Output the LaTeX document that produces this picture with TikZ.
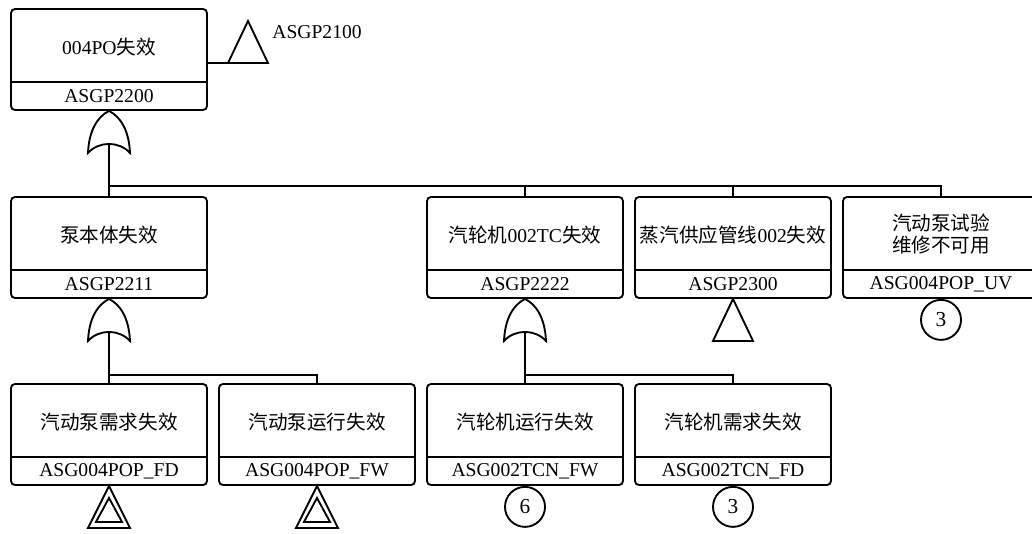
\documentclass[tikz,border=0pt]{standalone}
\usepackage{fontspec}
\setmainfont{Liberation Serif}
\newfontfamily\cjk{Noto Sans CJK SC}
\usetikzlibrary{positioning}
\newcommand{\zh}[1]{{\cjk #1}}

\tikzset{
  evbox/.style={draw, rounded corners=3pt, minimum width=147pt, minimum height=75.75pt, inner sep=0pt},
  idbox/.style={minimum width=147pt, minimum height=20.25pt, inner sep=0pt},
  evtitle/.style={align=center, font=\fontsize{14.7pt}{16.5pt}\selectfont},
  numcirc/.style={draw, circle, minimum size=30pt, inner sep=0pt, font=\fontsize{16pt}{18pt}\selectfont},
  orgate/.pic={
    \draw[fill=white] (-21,42) .. controls (-20,20) and (-12,6) .. (0,0)
      .. controls (12,6) and (20,20) .. (21,42)
      .. controls (10,30) and (-10,30) .. cycle;
    \coordinate (-out) at (0,33);
  },
  transfer/.pic={
    \draw[fill=white] (0,0) -- (20,42) -- (-20,42) -- cycle;
    \coordinate (-left) at (-20,42);
  },
  basicev/.pic={
    \draw[fill=white] (0,0) -- (21,42) -- (-21,42) -- cycle;
    \draw (0,12) -- (13,36) -- (-13,36) -- cycle;
  }
}

\begin{document}
\begin{tikzpicture}[x=0.75pt, y=-0.75pt, line width=1.4pt,
    every node/.style={font=\fontsize{14.7pt}{17pt}\selectfont}]
  \useasboundingbox (0,0) rectangle (1032,533);
  \pgfmathsetmacro{\rowa}{59.5}
  \pgfmathsetmacro{\rowb}{247.5}
  \pgfmathsetmacro{\rowc}{434.5}

  % top event
  \node[evbox] (top) at (109,\rowa) {};
  \node[idbox, above=0pt of top.south] (top-id) {ASGP2200};
  \draw (top-id.north west) -- (top-id.north east);
  \node[evtitle] (top-t) at ([yshift=-29pt]top.north) {004PO\zh{失效}};
  \pic (tA) at (248,21) {transfer};
  \draw (top.east |- tA-left) -- (tA-left);
  \node[right] (tA-lbl) at (267,32) {ASGP2100};
  \pic (gTop) at (top.south) {orgate};

  % second row
  \node[evbox] (e21) at (109,\rowb) {};
  \node[idbox, above=0pt of e21.south] (e21-id) {ASGP2211};
  \node[evtitle] (e21-t) at ([yshift=-29pt]e21.north) {\zh{泵本体失效}};
  \node[evbox] (e22) at (525,\rowb) {};
  \node[idbox, above=0pt of e22.south] (e22-id) {ASGP2222};
  \node[evtitle] (e22-t) at ([yshift=-29pt]e22.north) {\zh{汽轮机}002TC\zh{失效}};
  \node[evbox] (e23) at (733,\rowb) {};
  \node[idbox, above=0pt of e23.south] (e23-id) {ASGP2300};
  \node[evtitle] (e23-t) at ([yshift=-29pt]e23.north) {\zh{蒸汽供应管线}002\zh{失效}};
  \node[evbox] (e24) at (941,\rowb) {};
  \node[idbox, above=0pt of e24.south] (e24-id) {ASG004POP\_UV};
  \node[evtitle] (e24-t) at ([yshift=-28.5pt]e24.north) {\zh{汽动泵试验}\\\zh{维修不可用}};
  \foreach \e in {e21,e22,e23,e24}
    \draw (\e-id.north west) -- (\e-id.north east);

  \coordinate (bus1) at (109,186);
  \draw (gTop-out) -- (e21.north);
  \draw (bus1) -| (e22.north);
  \draw (bus1) -| (e23.north);
  \draw (bus1) -| (e24.north);

  \pic (g21) at (e21.south) {orgate};
  \pic (g22) at (e22.south) {orgate};
  \pic (tB) at (e23.south) {transfer};
  \node[numcirc, below=0pt of e24.south] (c24) {3};

  % third row
  \node[evbox] (e31) at (109,\rowc) {};
  \node[idbox, above=0pt of e31.south] (e31-id) {ASG004POP\_FD};
  \node[evtitle] (e31-t) at ([yshift=-29pt]e31.north) {\zh{汽动泵需求失效}};
  \node[evbox] (e32) at (317,\rowc) {};
  \node[idbox, above=0pt of e32.south] (e32-id) {ASG004POP\_FW};
  \node[evtitle] (e32-t) at ([yshift=-29pt]e32.north) {\zh{汽动泵运行失效}};
  \node[evbox] (e33) at (525,\rowc) {};
  \node[idbox, above=0pt of e33.south] (e33-id) {ASG002TCN\_FW};
  \node[evtitle] (e33-t) at ([yshift=-29pt]e33.north) {\zh{汽轮机运行失效}};
  \node[evbox] (e34) at (733,\rowc) {};
  \node[idbox, above=0pt of e34.south] (e34-id) {ASG002TCN\_FD};
  \node[evtitle] (e34-t) at ([yshift=-29pt]e34.north) {\zh{汽轮机需求失效}};
  \foreach \e in {e31,e32,e33,e34}
    \draw (\e-id.north west) -- (\e-id.north east);

  \coordinate (bus2) at (109,375);
  \coordinate (bus3) at (525,375);
  \draw (g21-out) -- (e31.north);
  \draw (bus2) -| (e32.north);
  \draw (g22-out) -- (e33.north);
  \draw (bus3) -| (e34.north);

  \pic at (e31.south) {basicev};
  \pic at (e32.south) {basicev};
  \node[numcirc, below=0pt of e33.south] (c33) {6};
  \node[numcirc, below=0pt of e34.south] (c34) {3};
\end{tikzpicture}
\end{document}
